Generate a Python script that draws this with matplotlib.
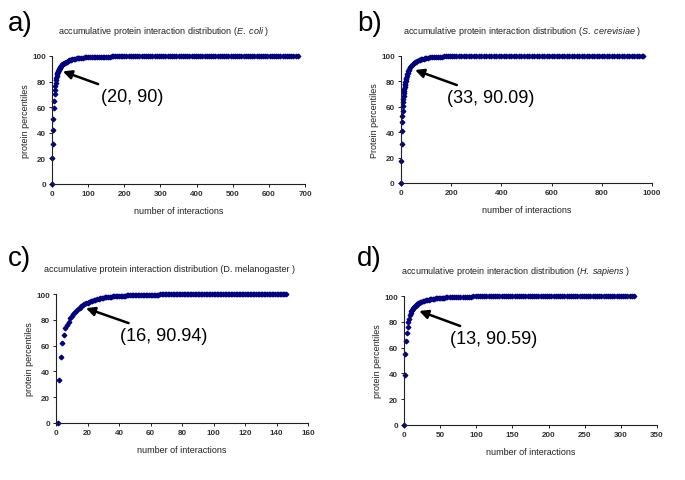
import matplotlib
matplotlib.use("Agg")
import matplotlib.pyplot as plt

plt.rcParams['font.family'] = ['Liberation Sans', 'DejaVu Sans']
plt.rcParams['mathtext.fontset'] = 'custom'
plt.rcParams['mathtext.rm'] = 'Liberation Sans'
plt.rcParams['mathtext.it'] = 'Liberation Sans:italic'

# --- data ---
# a) E. coli
ecoli_x = [0, 1, 2, 3, 4, 5, 6, 7, 8, 9, 10, 11, 12, 13, 14, 15, 16, 17, 18, 19, 20, 21, 22, 23, 24, 25,
           27, 29, 31, 33, 35, 38, 41, 44, 47, 50, 53, 56, 60, 64, 68, 72, 76, 80, 85, 90, 95,
           100, 105, 110, 115, 120, 125, 130, 135, 140, 145, 150, 155, 160, 165, 170, 175, 180, 185, 190, 195, 200,
           206, 212, 218, 224, 230, 236, 242, 248, 254, 260,
           266, 272, 278, 284, 290, 296, 302, 308, 314, 320,
           326, 332, 338, 344, 350, 356, 362, 368, 374, 380,
           386, 392, 398, 404, 410, 416, 422, 428, 434, 440,
           446, 452, 458, 464, 470, 476, 482, 488, 494, 500,
           506, 512, 518, 524, 530, 536, 542, 548, 554, 560,
           566, 572, 578, 584, 590, 596, 602, 608, 614, 620,
           626, 632, 638, 644, 650, 656, 662, 668, 674, 680]
ecoli_y = [0, 20, 31.5, 42, 51, 59, 65, 70, 73.5, 76.5, 79, 81, 83, 84.5, 85.8, 86.8, 87.7, 88.4, 89, 89.5, 90, 90.5, 91, 91.4, 91.8, 92.2,
           92.8, 93.4, 93.9, 94.3, 94.7, 95.2, 95.7, 96.1, 96.5, 96.8, 97.1, 97.3, 97.6, 97.85, 98.05, 98.25, 98.45, 98.6, 98.75, 98.9, 99,
           99.1, 99.15, 99.2, 99.25, 99.3, 99.35, 99.4, 99.43, 99.46, 99.5, 99.53, 99.56, 99.59, 99.62, 99.65, 99.68, 99.7, 99.72, 99.75, 99.78, 99.8,
           99.82, 99.82, 99.83, 99.83, 99.84, 99.84, 99.85, 99.85, 99.86, 99.86,
           99.87, 99.87, 99.88, 99.88, 99.89, 99.89, 99.9, 99.9, 99.9, 99.91,
           99.91, 99.91, 99.92, 99.92, 99.92, 99.93, 99.93, 99.93, 99.94, 99.94,
           99.94, 99.95, 99.95, 99.95, 99.95, 99.96, 99.96, 99.96, 99.96, 99.97,
           99.97, 99.97, 99.97, 99.97, 99.98, 99.98, 99.98, 99.98, 99.98, 99.98,
           99.99, 99.99, 99.99, 99.99, 99.99, 99.99, 99.99, 99.99, 99.99, 99.99,
           100, 100, 100, 100, 100, 100, 100, 100, 100, 100,
           100, 100, 100, 100, 100, 100, 100, 100, 100, 100]

# b) S. cerevisiae
yeast_x = [0, 1, 2, 3, 4, 5, 6, 7, 8, 9, 10, 11, 12, 13, 14, 15, 16, 17, 18, 19, 20,
           22, 24, 26, 28, 30, 33, 36, 40, 44, 48, 52, 56, 60, 65, 70, 75, 80, 85, 90, 95,
           100, 108, 116, 124, 132, 140, 148, 156, 164, 172, 180, 188, 196, 204, 212, 220,
           230, 240, 250, 260, 270, 280, 290, 300, 310, 320,
           330, 340, 350, 360, 370, 380, 390, 400, 410, 420,
           430, 440, 450, 460, 470, 480, 490, 500, 510, 520,
           530, 540, 550, 560, 570, 580, 590, 600, 610, 620,
           630, 640, 650, 660, 670, 680, 690, 700, 710, 720,
           730, 740, 750, 760, 770, 780, 790, 800, 810, 820,
           830, 840, 850, 860, 870, 880, 890, 900, 910, 920,
           930, 940, 950, 960, 965]
yeast_y = [0, 17.5, 31, 41, 48, 53, 57, 60.5, 63.5, 66, 68.5, 70.5, 72.5, 74, 75.5, 77, 78.3, 79.5, 80.6, 81.6, 82.5,
           84, 85.5, 86.8, 88, 89, 90.09, 91, 92, 92.9, 93.7, 94.4, 95, 95.5, 96.1, 96.6, 97, 97.4, 97.7, 98, 98.2,
           98.4, 98.7, 98.9, 99.05, 99.2, 99.3, 99.4, 99.48, 99.55, 99.62, 99.68, 99.72, 99.76, 99.8, 99.82, 99.84,
           99.85, 99.85, 99.86, 99.86, 99.87, 99.87, 99.88, 99.88, 99.89, 99.89,
           99.9, 99.9, 99.9, 99.91, 99.91, 99.91, 99.92, 99.92, 99.92, 99.93,
           99.93, 99.93, 99.94, 99.94, 99.94, 99.95, 99.95, 99.95, 99.95, 99.96,
           99.96, 99.96, 99.96, 99.97, 99.97, 99.97, 99.97, 99.97, 99.98, 99.98,
           99.98, 99.98, 99.98, 99.98, 99.99, 99.99, 99.99, 99.99, 99.99, 99.99,
           99.99, 99.99, 99.99, 100, 100, 100, 100, 100, 100, 100,
           100, 100, 100, 100, 100, 100, 100, 100, 100, 100,
           100, 100, 100, 100, 100]

# c) D. melanogaster
fly_x = [1, 2, 3, 4, 5, 6, 7, 8, 9, 10,
         11, 12, 13, 14, 15, 16, 17, 18, 19, 20,
         21, 22, 23, 24, 25, 26, 27, 28, 29, 30,
         31, 32, 33, 34, 35, 36, 37, 38, 39, 40,
         41, 42, 43, 44, 45, 46, 47, 48, 49, 50,
         51, 52, 53, 54, 55, 56, 57, 58, 59, 60,
         61, 62, 63, 64, 65, 66, 67, 68, 69, 70,
         71, 72, 73, 74, 75, 76, 77, 78, 79, 80,
         81, 82, 83, 84, 85, 86, 87, 88, 89, 90,
         91, 92, 93, 94, 95, 96, 97, 98, 99, 100,
         101, 102, 103, 104, 105, 106, 107, 108, 109, 110,
         111, 112, 113, 114, 115, 116, 117, 118, 119, 120,
         121, 122, 123, 124, 125, 126, 127, 128, 129, 130,
         131, 132, 133, 134, 135, 136, 137, 138, 139, 140,
         141, 142, 143, 144, 145, 146]
fly_y = [0, 33.5, 51, 62, 68.5, 74, 76, 78.5, 81.5, 83,
         84.5, 86, 87.2, 88.3, 89.5, 90.94, 91.5, 92.2, 92.8, 93.3,
         93.8, 94.3, 94.8, 95.2, 95.6, 96, 96.3, 96.6, 96.9, 97.2,
         97.4, 97.6, 97.75, 97.9, 98, 98.1, 98.2, 98.3, 98.4, 98.5,
         98.6, 98.7, 98.75, 98.8, 98.85, 98.9, 99, 99.1, 99.15, 99.2,
         99.25, 99.3, 99.3, 99.35, 99.35, 99.4, 99.4, 99.45, 99.45, 99.5,
         99.5, 99.55, 99.55, 99.6, 99.6, 99.65, 99.65, 99.7, 99.75, 99.8,
         99.8, 99.8, 99.82, 99.82, 99.84, 99.84, 99.85, 99.85, 99.86, 99.86,
         99.87, 99.87, 99.88, 99.88, 99.89, 99.89, 99.9, 99.9, 99.9, 99.91,
         99.91, 99.91, 99.92, 99.92, 99.92, 99.93, 99.93, 99.93, 99.94, 99.94,
         99.94, 99.95, 99.95, 99.95, 99.95, 99.96, 99.96, 99.96, 99.96, 99.97,
         99.97, 99.97, 99.97, 99.97, 99.98, 99.98, 99.98, 99.98, 99.98, 99.98,
         99.99, 99.99, 99.99, 99.99, 99.99, 99.99, 99.99, 99.99, 99.99, 99.99,
         99.99, 99.99, 99.99, 100, 100, 100, 100, 100, 100, 100,
         100, 100, 100, 100, 100, 100]

# d) H. sapiens
human_x = [0, 1, 2, 3, 4, 5, 6, 7, 8, 9, 10, 11, 12, 13, 14, 15, 16, 17, 18, 19, 20,
           22, 24, 26, 28, 30, 32, 34, 36, 38, 40, 42, 44, 46, 48, 50, 52, 54, 56, 58, 60,
           63, 66, 69, 72, 75, 78, 81, 84, 87, 90,
           93, 96, 99, 102, 105, 108, 111, 114, 117, 120,
           123, 126, 129, 132, 135, 138, 141, 144, 147, 150,
           153, 156, 159, 162, 165, 168, 171, 174, 177, 180,
           183, 186, 189, 192, 195, 198, 201, 204, 207, 210,
           213, 216, 219, 222, 225, 228, 231, 234, 237, 240,
           243, 246, 249, 252, 255, 258, 261, 264, 267, 270,
           273, 276, 279, 282, 285, 288, 291, 294, 297, 300,
           303, 306, 309, 312, 315, 318]
human_y = [0, 38.5, 55, 65, 71, 76, 79.5, 82.5, 85, 86.8, 88.2, 89.2, 90, 90.59, 91.3, 92, 92.6, 93.1, 93.6, 94, 94.4,
           95, 95.5, 95.9, 96.3, 96.6, 96.9, 97.15, 97.4, 97.6, 97.8, 97.95, 98.1, 98.25, 98.4, 98.5, 98.6, 98.7, 98.8, 98.9, 99,
           99.1, 99.15, 99.2, 99.25, 99.3, 99.35, 99.4, 99.45, 99.5, 99.55,
           99.6, 99.62, 99.64, 99.66, 99.68, 99.7, 99.72, 99.74, 99.76, 99.8,
           99.82, 99.83, 99.84, 99.85, 99.86, 99.87, 99.88, 99.89, 99.9, 99.9,
           99.91, 99.91, 99.92, 99.92, 99.93, 99.93, 99.94, 99.94, 99.95, 99.95,
           99.95, 99.96, 99.96, 99.96, 99.97, 99.97, 99.97, 99.97, 99.98, 99.98,
           99.98, 99.98, 99.98, 99.99, 99.99, 99.99, 99.99, 99.99, 99.99, 99.99,
           100, 100, 100, 100, 100, 100, 100, 100, 100, 100,
           100, 100, 100, 100, 100, 100, 100, 100, 100, 100,
           100, 100, 100, 100, 100, 100]

W, H = 685, 481

panels = [
    # label, x, y, axes box in px (l, r, t, b), xmax, xstep, title, title centre px,
    # ylabel, note, arrow tip, note position
    ("a)", ecoli_x, ecoli_y, (52, 305, 57, 185), 700, 100,
     r"accumulative protein interaction distribution ($\it{E.\ coli}$ )", (164, 32),
     "protein percentiles", "(20, 90)", (30, 88), (135, 68.5)),
    ("b)", yeast_x, yeast_y, (401, 652, 57, 184), 1000, 200,
     r"accumulative protein interaction distribution ($\it{S.\ cerevisiae}$ )", (522, 32),
     "Protein percentiles", "(33, 90.09)", (56, 89), (183, 67.5)),
    ("c)", fly_x, fly_y, (56, 308, 295, 424), 160, 20,
     "accumulative protein interaction distribution (D. melanogaster )", (170, 270),
     "protein percentiles", "(16, 90.94)", (19, 89), (40.5, 68)),
    ("d)", human_x, human_y, (404, 657, 297, 426), 350, 50,
     r"accumulative protein interaction distribution ($\it{H.\ sapiens}$ )", (516, 272),
     "protein percentiles", "(13, 90.59)", (21, 88.4), (63.5, 67.3)),
]

fig = plt.figure(figsize=(W / 100, H / 100), dpi=100)
fig.patch.set_facecolor("white")

for lab, xs, ys, (l, r, t, b), xmax, xstep, title, tc, ylab, note, tip, tpos in panels:
    ax = fig.add_axes([l / W, 1 - b / H, (r - l) / W, (b - t) / H])
    ax.plot(xs, ys, linestyle="none", marker="D", markersize=2.4,
            color="#000080", markeredgewidth=0.9, clip_on=False)
    ax.set_xlim(0, xmax)
    ax.set_ylim(0, 100)
    ax.set_xticks(range(0, xmax + 1, xstep))
    ax.set_yticks(range(0, 101, 20))
    for s in ["top", "right"]:
        ax.spines[s].set_visible(False)
    for s in ["left", "bottom"]:
        ax.spines[s].set_color("#202020")
        ax.spines[s].set_linewidth(0.8)
    ax.tick_params(direction="out", length=2.5, width=0.7, labelsize=5.8,
                   colors="#202020", pad=2)
    for tl in ax.get_xticklabels() + ax.get_yticklabels():
        tl.set_fontweight("bold")
        tl.set_color("#303030")
    ax.set_xlabel("number of interactions", fontsize=6.5, color="#202020", labelpad=6)
    ax.set_ylabel(ylab, fontsize=6.5, color="#202020", labelpad=1.5)
    fig.text(tc[0] / W, 1 - tc[1] / H, title, fontsize=6.5, color="#202020",
             ha="center", va="center")
    ax.annotate(note, xy=tip, xytext=tpos, textcoords="data",
                fontsize=13, va="center", ha="left",
                arrowprops=dict(arrowstyle="-|>", color="black", lw=1.8,
                                mutation_scale=13, shrinkA=2, shrinkB=0))
    fx = 8 if lab in ("a)", "c)") else 357
    fy = 31 if lab in ("a)", "b)") else 266
    fig.text(fx / W, 1 - fy / H, lab, fontsize=20, va="baseline", ha="left")

fig.savefig("out.png", dpi=100)
